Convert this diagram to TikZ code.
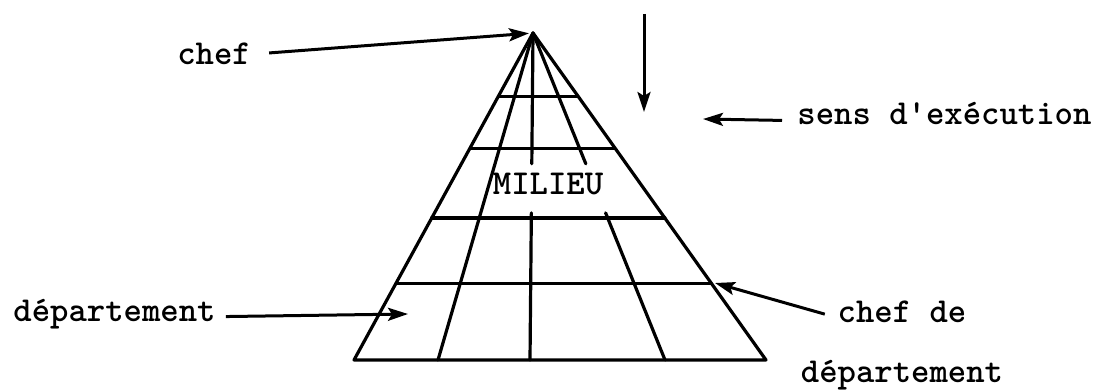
\documentclass[tikz,border=0pt]{standalone}
\usetikzlibrary{positioning,arrows.meta,calc}

\tikzset{
  lbl/.style={font=\ttfamily\bfseries\fontsize{17.5}{20}\selectfont, inner sep=0pt},
  pyr/.style={line width=1.6pt, line cap=round, line join=round},
  ptr/.style={line width=1.5pt, arrows={-Stealth[length=10pt,width=6.5pt,inset=2pt]}},
}

\begin{document}
\begin{tikzpicture}[x=0.5pt,y=-0.5pt]
    \useasboundingbox (0,0) rectangle (1107,390);

    % pyramide
    \coordinate (apex) at (533,33);
    \coordinate (bl) at (354,360);
    \coordinate (br) at (766,360);
    \coordinate (bli) at (438,360);
    \coordinate (bm) at (530,360);
    \coordinate (bri) at (665,360);

    \draw[pyr] (apex) -- (bl) -- (br) -- cycle;
    \draw[pyr] (apex) -- (bli);
    \foreach \t in {0.193,0.352,0.566,0.765}
      \draw[pyr] ($(apex)!\t!(bl)$) -- ($(apex)!\t!(br)$);
    \foreach \b in {bm,bri} {
      \draw[pyr] (apex) -- ($(apex)!0.40!(\b)$);
      \draw[pyr] ($(apex)!0.55!(\b)$) -- (\b);
    }

    \node[lbl] (milieu) at (548,184) {MILIEU};

    % etiquettes
    \node[lbl,anchor=base] (chef) at (214,65) {chef};
    \draw[ptr,shorten <=9pt,shorten >=2pt] (chef.east) -- (apex);

    \coordinate (dtop) at (644,14);
    \coordinate (dbot) at (644,112);
    \draw[ptr] (dtop) -- (dbot);

    \node[lbl,anchor=base west] (sens) at (797,125) {sens d'exécution};
    \coordinate (senstip) at (703,119);
    \draw[ptr,shorten <=7.5pt] (sens.mid west) -- (senstip);

    \node[lbl,anchor=base west] (dep) at (13,321) {département};
    \coordinate (deptip) at (408,314);
    \draw[ptr,shorten <=5pt] (dep.mid east) -- (deptip);

    \node[lbl,anchor=base] (chefde) at (902,322) {chef de};
    \node[lbl,anchor=base] (depb) at ([yshift=-30pt]chefde.base) {département};
    \coordinate (cdtip) at (715,283);
    \draw[ptr,shorten <=6.5pt] (chefde.mid west) -- (cdtip);

\end{tikzpicture}
\end{document}
